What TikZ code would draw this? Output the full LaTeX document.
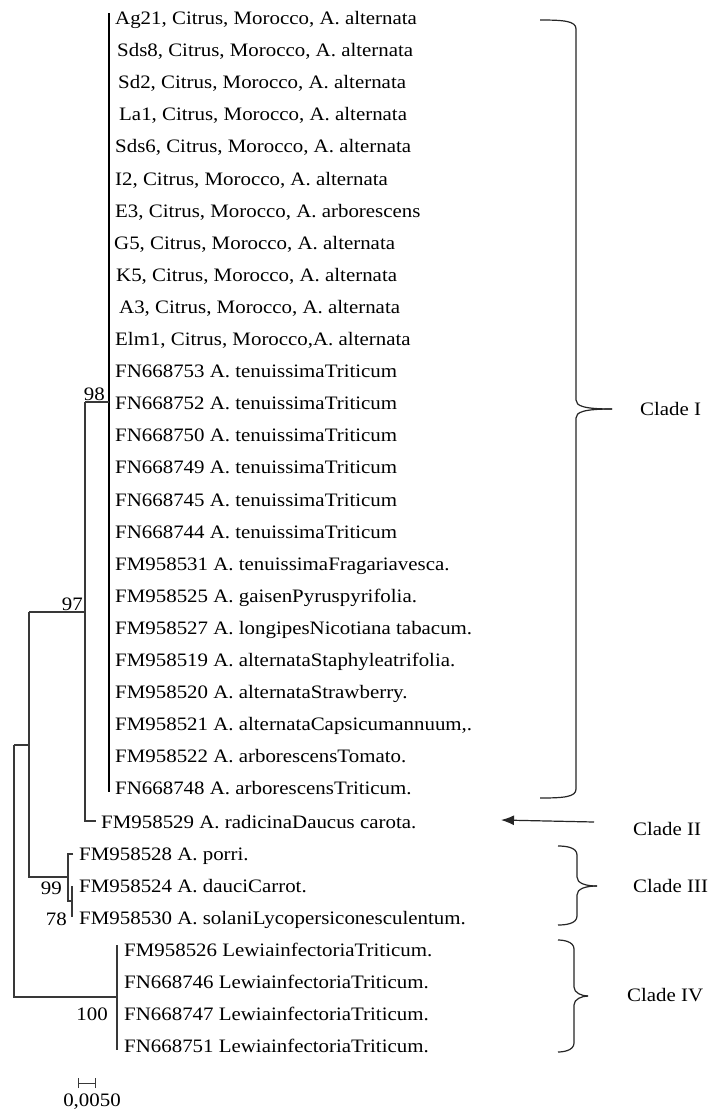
\documentclass[tikz,border=0pt]{standalone}
\usepackage{fontspec}
\setmainfont{Liberation Serif}[FakeStretch=1.1]
\usetikzlibrary{arrows.meta}
\newcommand\cladebrace[6]{%
  \draw[brace] (#1,#4) .. controls ({#2-12},#4) and (#2,{#4+1}) .. (#2,{#4+9}) -- (#2,{#5-9}) .. controls (#2,{#5-3}) and ({#2+8},#5) .. (#3,#5);
  \draw[brace] (#1,#6) .. controls ({#2-12},#6) and (#2,{#6-1}) .. (#2,{#6-9}) -- (#2,{#5+9}) .. controls (#2,{#5+3}) and ({#2+8},#5) .. (#3,#5);
}
\begin{document}
\begin{tikzpicture}[x=1pt,y=-1pt,
  tree/.style={draw=black!78, line width=1.1pt},
  polyline/.style={draw=black, line width=1.6pt},
  txt/.style={inner sep=0pt, font=\fontsize{19}{22}\selectfont},
  leaf/.style={txt, anchor=base west},
  boot/.style={txt, anchor=base east},
  brace/.style={draw=black!85, line width=1.2pt},
  clade/.style={txt, anchor=west},
]
\useasboundingbox[fill=white] (0,0) rectangle (708,1112);

% Clade I leaves
\foreach \i/\dx/\t in {
  0/115/{Ag21, Citrus, Morocco, A. alternata},
  1/117/{Sds8, Citrus, Morocco, A. alternata},
  2/118/{Sd2, Citrus, Morocco, A. alternata},
  3/119/{La1, Citrus, Morocco, A. alternata},
  4/115/{Sds6, Citrus, Morocco, A. alternata},
  5/115/{I2, Citrus, Morocco, A. alternata},
  6/115/{E3, Citrus, Morocco, A. arborescens},
  7/114/{G5, Citrus, Morocco, A. alternata},
  8/116/{K5, Citrus, Morocco, A. alternata},
  9/119/{A3, Citrus, Morocco, A. alternata},
  10/115/{Elm1, Citrus, Morocco,A. alternata},
  11/115/{FN668753 A. tenuissimaTriticum},
  12/115/{FN668752 A. tenuissimaTriticum},
  13/115/{FN668750 A. tenuissimaTriticum},
  14/115/{FN668749 A. tenuissimaTriticum},
  15/115/{FN668745 A. tenuissimaTriticum},
  16/115/{FN668744 A. tenuissimaTriticum},
  17/115/{FM958531 A. tenuissimaFragariavesca.},
  18/115/{FM958525 A. gaisenPyruspyrifolia.},
  19/115/{FM958527 A. longipesNicotiana tabacum.},
  20/115/{FM958519 A. alternataStaphyleatrifolia.},
  21/115/{FM958520 A. alternataStrawberry.},
  22/115/{FM958521 A. alternataCapsicumannuum,.},
  23/115/{FM958522 A. arborescensTomato.},
  24/115/{FN668748 A. arborescensTriticum.}}
  \node[leaf] (l\i) at (\dx,{18+32.1*\i+6.5}) {\t};

% other leaves
\node[leaf] (rad) at (101,828.5) {FM958529 A. radicinaDaucus carota.};
\node[leaf] (por) at (79,860.5) {FM958528 A. porri.};
\node[leaf] (dau) at (79,892.5) {FM958524 A. dauciCarrot.};
\node[leaf] (sol) at (79,924.5) {FM958530 A. solaniLycopersiconesculentum.};
\node[leaf] (lw1) at (124,956.5) {FM958526 LewiainfectoriaTriticum.};
\node[leaf] (lw2) at (124,988.5) {FN668746 LewiainfectoriaTriticum.};
\node[leaf] (lw3) at (124,1020.5) {FN668747 LewiainfectoriaTriticum.};
\node[leaf] (lw4) at (124,1052.5) {FN668751 LewiainfectoriaTriticum.};

% internal nodes
\coordinate (c1top) at (109,13);
\coordinate (c1bot) at (109,792);
\coordinate (n98) at (109,402);
\coordinate (n97) at (85,612);
\coordinate (radtip) at (96,821);
\coordinate (nA) at (29,745);
\coordinate (n99) at (68,877);
\coordinate (portip) at (73,854);
\coordinate (n78) at (72,901);
\coordinate (dautip) at (72,886);
\coordinate (soltip) at (72,917);
\coordinate (root) at (14,870);
\coordinate (n100) at (117,997);
\coordinate (lwtop) at (117,945);
\coordinate (lwbot) at (117,1050);

% tree
\draw[polyline] (c1top) -- (c1bot);
\draw[tree] (n97 |- n98) -- (n98);
\draw[tree] (n97 |- n98) -- (n97 |- radtip) -- (radtip);
\draw[tree] (nA |- n97) -- (n97);
\draw[tree] (nA |- n97) -- (nA |- n99) -- (n99);
\draw[tree] (portip) -- (n99 |- portip) -- (n99 |- n78) -- (n78);
\draw[tree] (dautip) -- (soltip);
\draw[tree] (root |- nA) -- (nA);
\draw[tree] (root |- nA) -- (root |- n100) -- (n100);
\draw[tree] (lwtop) -- (lwbot);

% bootstrap values
\node[boot] (b98) at (105,400) {98};
\node[boot] (b97) at (83,610) {97};
\node[boot] (b99) at (62,894) {99};
\node[boot] (b78) at (67,925) {78};
\node[boot] (b100) at (108,1020.5) {100};

% scale bar
\coordinate (sbl) at (78,1083);
\coordinate (sbr) at (95,1083);
\draw[tree, line width=1pt] (sbl) -- (sbr);
\draw[tree, line width=1pt] ([yshift=-5pt]sbl) -- ([yshift=5pt]sbl);
\draw[tree, line width=1pt] ([yshift=-5pt]sbr) -- ([yshift=5pt]sbr);
\node[txt] (sblab) at (92,1102) {0,0050};

% clade braces and labels
\cladebrace{540}{576}{612}{20}{409}{798}
\node[clade] (cI) at (640,409) {Clade I};
\coordinate (a2s) at (594,822);
\coordinate (a2e) at (501,820);
\draw[draw=black!85, line width=1.2pt, -{Latex[length=13pt,width=10pt]}] (a2s) -- (a2e);
\node[clade] (cII) at (633,829) {Clade II};
\cladebrace{558}{577}{597}{846}{886}{925}
\node[clade] (cIII) at (633,886) {Clade III};
\cladebrace{558}{574}{588}{940}{996}{1052}
\node[clade] (cIV) at (627,995) {Clade IV};
\end{tikzpicture}
\end{document}
